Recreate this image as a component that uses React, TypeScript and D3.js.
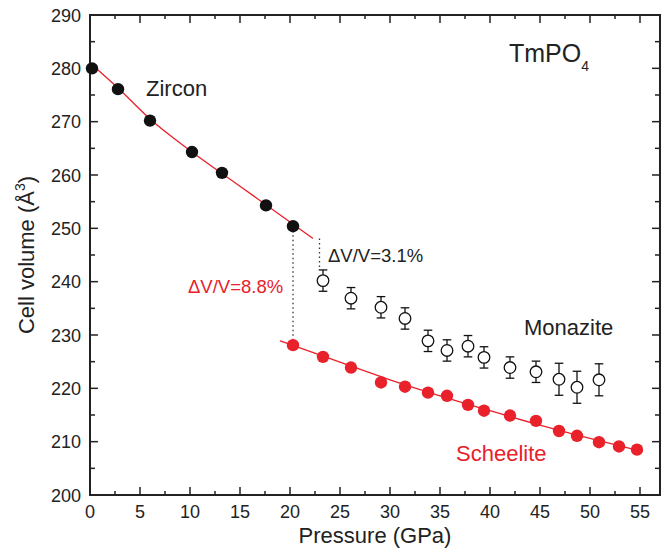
import React from "react";
import * as d3 from "d3";

const zirconP = [0.2, 2.8, 6.0, 10.2, 13.2, 17.6, 20.3];
const zirconV = [280.0, 276.1, 270.2, 264.3, 260.4, 254.3, 250.4];

const zirconFitP = [0, 2.8, 6.0, 10.0, 15.0, 20.0, 22.3];
const zirconFitV = [281.0, 276.3, 270.5, 264.6, 257.9, 251.2, 248.1];

const monaziteP = [23.3, 26.1, 29.1, 31.5, 33.8, 35.7, 37.8, 39.4, 42.0, 44.6, 46.9, 48.7, 50.9];
const monaziteV = [240.2, 236.9, 235.2, 233.1, 228.9, 227.1, 227.9, 225.8, 223.9, 223.1, 221.7, 220.2, 221.6];
const monaziteErr = [2.0, 2.0, 2.0, 2.0, 2.0, 2.0, 2.0, 2.0, 2.0, 2.0, 3.0, 3.0, 3.0];

const scheeliteP = [20.3, 23.3, 26.1, 29.1, 31.5, 33.8, 35.7, 37.8, 39.4, 42.0, 44.6, 46.9, 48.7, 50.9, 52.9, 54.7];
const scheeliteV = [228.1, 225.9, 223.9, 221.1, 220.3, 219.2, 218.6, 216.9, 215.8, 214.9, 213.9, 212.0, 211.1, 209.9, 209.1, 208.5];

const scheeliteFitP = [19.0, 25.0, 30.0, 35.0, 40.0, 45.0, 50.0, 54.7];
const scheeliteFitV = [228.9, 224.9, 221.6, 218.6, 215.8, 213.1, 210.6, 208.4];

const xTicks = [0, 5, 10, 15, 20, 25, 30, 35, 40, 45, 50, 55];
const yTicks = [200, 210, 220, 230, 240, 250, 260, 270, 280, 290];

const RED = "#e8212b";
const FONT = "'Liberation Sans', Arial, Helvetica, sans-serif";

export default function App() {
  const W = 669, H = 550;
  const L = 90, R = 660, T = 15, B = 495;
  const x = d3.scaleLinear().domain([0, 57]).range([L, R]);
  const y = d3.scaleLinear().domain([200, 290]).range([B, T]);
  const line = d3.line<[number, number]>().x(d => x(d[0])).y(d => y(d[1])).curve(d3.curveMonotoneX);

  const xMinor = d3.range(0, 57.01, 2.5);
  const yMinor = d3.range(200, 290.01, 5);

  const zFit = zirconFitP.map((p, i) => [p, zirconFitV[i]] as [number, number]);
  const sFit = scheeliteFitP.map((p, i) => [p, scheeliteFitV[i]] as [number, number]);

  return (
    <svg width={W} height={H} style={{ position: "absolute", left: 0, top: 0, background: "#fff" }} fontFamily={FONT}>
      {/* ticks */}
      {xMinor.map((v, i) => {
        const major = Math.abs(v / 5 - Math.round(v / 5)) < 1e-6;
        const len = major ? 8 : 4;
        return (
          <g key={"xt" + i} stroke="#222" strokeWidth={1.5}>
            <line x1={x(v)} x2={x(v)} y1={B} y2={B - len} />
            <line x1={x(v)} x2={x(v)} y1={T} y2={T + len} />
          </g>
        );
      })}
      {yMinor.map((v, i) => {
        const major = v % 10 === 0;
        const len = major ? 8 : 5;
        return (
          <g key={"yt" + i} stroke="#222" strokeWidth={1.5}>
            <line x1={L} x2={L + len} y1={y(v)} y2={y(v)} />
            <line x1={R} x2={R - len} y1={y(v)} y2={y(v)} />
          </g>
        );
      })}
      <rect x={L} y={T} width={R - L} height={B - T} fill="none" stroke="#222" strokeWidth={2} />

      {xTicks.map(v => (
        <text key={"xl" + v} x={x(v)} y={518} textAnchor="middle" fontSize={18} fill="#222">{v}</text>
      ))}
      {yTicks.map(v => (
        <text key={"yl" + v} x={81} y={y(v) + 6.5} textAnchor="end" fontSize={18} fill="#222">{v}</text>
      ))}

      <text x={(L + R) / 2} y={543} textAnchor="middle" fontSize={22} fill="#222">Pressure (GPa)</text>
      <text transform={`translate(34,${(T + B) / 2}) rotate(-90)`} textAnchor="middle" fontSize={22} fill="#222">
        Cell volume (Å<tspan dy={-9} fontSize={14}>3</tspan><tspan dy={9}>)</tspan>
      </text>

      {/* fits */}
      <path d={line(zFit) || ""} fill="none" stroke={RED} strokeWidth={1.3} />
      <path d={line(sFit) || ""} fill="none" stroke={RED} strokeWidth={1.3} />

      {/* dotted transition lines */}
      <line x1={x(20.3)} x2={x(20.3)} y1={y(250.4)} y2={y(228.1)} stroke="#333" strokeWidth={1.3} strokeDasharray="1.5,3" />
      <line x1={x(22.95)} x2={x(22.95)} y1={y(248.1)} y2={y(242.3)} stroke="#333" strokeWidth={1.3} strokeDasharray="1.5,3" />

      {/* zircon */}
      {zirconP.map((p, i) => (
        <circle key={"z" + i} cx={x(p)} cy={y(zirconV[i])} r={6.2} fill="#111" />
      ))}

      {/* monazite */}
      {monaziteP.map((p, i) => {
        const cx = x(p);
        const top = y(monaziteV[i] + monaziteErr[i]);
        const bot = y(monaziteV[i] - monaziteErr[i]);
        return (
          <g key={"m" + i} stroke="#111" strokeWidth={1.3}>
            <line x1={cx} x2={cx} y1={top} y2={bot} />
            <line x1={cx - 4.3} x2={cx + 4.3} y1={top} y2={top} />
            <line x1={cx - 4.3} x2={cx + 4.3} y1={bot} y2={bot} />
            <circle cx={cx} cy={y(monaziteV[i])} r={5.8} fill="#fff" />
          </g>
        );
      })}

      {/* scheelite */}
      {scheeliteP.map((p, i) => (
        <circle key={"s" + i} cx={x(p)} cy={y(scheeliteV[i])} r={6.2} fill={RED} />
      ))}

      {/* annotations */}
      <text x={146} y={96} fontSize={22} fill="#222">Zircon</text>
      <text x={524} y={335} fontSize={22} fill="#222">Monazite</text>
      <text x={456} y={461} fontSize={22} fill={RED}>Scheelite</text>
      <text x={509} y={62} fontSize={25} fill="#222">TmPO<tspan dy={9} fontSize={14}>4</tspan></text>
      <text x={328} y={262} fontSize={18.5} fill="#222">ΔV/V=3.1%</text>
      <text x={188} y={293} fontSize={18.5} fill={RED}>ΔV/V=8.8%</text>
    </svg>
  );
}
